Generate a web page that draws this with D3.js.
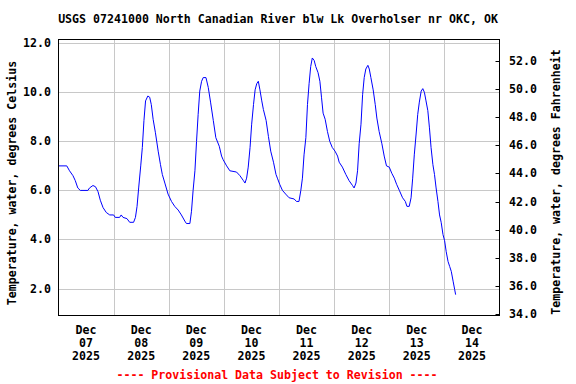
<!DOCTYPE html>
<html>
<head>
<meta charset="utf-8">
<script src="https://cdn.jsdelivr.net/npm/d3@7"></script>
<style>
  body { margin: 0; background: #fff; }
  text { font-family: "DejaVu Sans Mono", monospace; font-weight: bold; font-size: 11.6px; }
</style>
</head>
<body>
<div id="chart"></div>
<script>
var title = "USGS 07241000 North Canadian River blw Lk Overholser nr OKC, OK";
var leftLabel = "Temperature, water, degrees Celsius";
var rightLabel = "Temperature, water, degrees Fahrenheit";
var footer = "---- Provisional Data Subject to Revision ----";

var startDate = "2025-12-07T00:00";
var dayTicks = ["2025-12-07", "2025-12-08", "2025-12-09", "2025-12-10",
                "2025-12-11", "2025-12-12", "2025-12-13", "2025-12-14"];
var celsiusTicks = [2, 4, 6, 8, 10, 12];
var fahrenheitTicks = [34, 36, 38, 40, 42, 44, 46, 48, 50, 52];

// hours after Dec 07 00:00, and water temperature (deg C)
var hours = [0, 3.6, 4.8, 6.3, 7.3, 8.4, 9.5, 12.8, 13.5, 15.0, 16.1, 17.2, 18.2, 19.4, 20.8, 22.3,
  24.0, 24.7, 26.6, 27.3, 28.1, 29.8, 31.0, 32.7, 33.5, 34.2, 34.9, 35.8, 36.5, 37.2, 37.9, 38.9,
  39.7, 40.4, 41.2, 42.2, 43.4, 44.4, 45.2, 46.3, 47.7, 49.2, 50.6, 52.1, 53.5, 55.0, 55.7, 57.2,
  57.9, 58.6, 59.4, 60.1, 60.8, 61.5, 62.3, 63.0, 64.2, 65.2, 66.2, 67.4, 68.5, 70.0, 71.0, 71.7,
  73.2, 74.6, 77.5, 79.0, 80.5, 81.2, 81.9, 82.6, 83.4, 84.1, 84.9, 85.6, 86.3, 87.0, 87.7, 88.5,
  89.2, 90.4, 91.4, 92.4, 93.6, 94.7, 95.3, 96.3, 97.5, 98.9, 100.4, 102.6, 103.6, 104.7, 105.5,
  106.2, 106.9, 107.7, 108.4, 109.1, 109.8, 110.5, 111.3, 112.0, 113.0, 113.8, 114.5, 115.2, 116.1,
  117.1, 118.1, 119.2, 120.4, 121.5, 122.2, 123.6, 125.1, 126.5, 128.0, 128.7, 129.5, 130.2, 130.9,
  131.7, 132.4, 133.1, 133.8, 134.7, 135.3, 136.0, 137.0, 137.9, 138.6, 139.6, 140.8, 141.8, 142.8,
  144.0, 145.1, 146.2, 147.2, 148.4, 149.8, 151.0, 151.7, 152.7, 153.5, 154.2, 154.9, 155.7, 156.4,
  157.1, 157.9, 158.6, 159.3, 160.0, 160.8, 161.5, 162.2, 163.0, 163.7, 164.4, 165.2, 165.9, 166.6,
  167.4, 168.1, 168.8, 169.6, 170.3, 171.0, 171.8, 172.5, 172.9];
var tempC = [7.0, 7.0, 6.8, 6.6, 6.4, 6.1, 6.0, 6.0, 6.1, 6.2, 6.15, 5.95, 5.6, 5.3, 5.1, 5.0,
  5.0, 4.9, 4.9, 5.0, 4.9, 4.85, 4.7, 4.7, 4.9, 5.35, 6.1, 7.0, 7.75, 8.85, 9.65, 9.85,
  9.8, 9.5, 8.9, 8.35, 7.6, 7.05, 6.65, 6.3, 5.85, 5.55, 5.35, 5.2, 5.0, 4.75, 4.65, 4.65,
  5.15, 6.0, 6.8, 8.0, 9.1, 10.05, 10.45, 10.6, 10.6, 10.2, 9.6, 8.85, 8.15, 7.8, 7.4, 7.25,
  7.0, 6.8, 6.75, 6.6, 6.4, 6.3, 6.5, 6.95, 7.75, 8.7, 9.5, 10.1, 10.35, 10.45, 10.1, 9.65,
  9.3, 8.85, 8.2, 7.6, 7.15, 6.65, 6.5, 6.25, 6.0, 5.85, 5.7, 5.65, 5.55, 5.55, 6.0,
  6.5, 7.45, 8.15, 9.5, 10.35, 11.05, 11.4, 11.3, 11.05, 10.8, 10.45, 9.8, 9.15, 8.9,
  8.4, 8.0, 7.75, 7.6, 7.4, 7.15, 6.95, 6.65, 6.4, 6.2, 6.1, 6.3, 6.8, 7.9,
  8.7, 9.9, 10.6, 10.95, 11.1, 10.95, 10.6, 10.1, 9.5, 8.95, 8.4, 7.9, 7.4, 7.0,
  6.95, 6.7, 6.5, 6.25, 6.0, 5.7, 5.55, 5.35, 5.35, 5.7, 6.5, 7.45, 8.3, 9.1,
  9.6, 10.05, 10.15, 10.0, 9.65, 9.25, 8.55, 7.75, 7.05, 6.65, 6.1, 5.55, 5.0, 4.7,
  4.2, 3.95, 3.5, 3.1, 2.9, 2.7, 2.3, 1.95, 1.75];

var svg = d3.select("#chart").append("svg")
  .attr("width", 576)
  .attr("height", 384);

var plotLeft = 58.5, plotRight = 499.5, plotTop = 39.5, plotBottom = 315.5;

var parseDay = d3.timeParse("%Y-%m-%d");
var t0 = d3.timeParse("%Y-%m-%dT%H:%M")(startDate);

var data = hours.map(function(h, i) {
  return { date: d3.timeMinute.offset(t0, Math.round(h * 60)), value: tempC[i] };
});

var x = d3.scaleTime()
  .domain([t0, d3.timeDay.offset(t0, 8)])
  .range([plotLeft, plotRight]);

var y = d3.scaleLinear()
  .domain([0.9, 12.153])
  .range([plotBottom, plotTop]);

var yF = d3.scaleLinear()
  .domain([33.89, 53.53])
  .range([plotBottom, plotTop]);

// grid
var grid = svg.append("g")
  .style("stroke", "#c8c8c8")
  .style("stroke-width", 1);

grid.selectAll(".hgrid").data(celsiusTicks).enter().append("line")
  .attr("x1", plotLeft).attr("x2", plotRight)
  .attr("y1", function(d) { return Math.round(y(d)) + 0.5; })
  .attr("y2", function(d) { return Math.round(y(d)) + 0.5; });

grid.selectAll(".vgrid").data(dayTicks.slice(1)).enter().append("line")
  .attr("y1", plotTop).attr("y2", plotBottom)
  .attr("x1", function(d) { return Math.round(x(parseDay(d))) + 0.5; })
  .attr("x2", function(d) { return Math.round(x(parseDay(d))) + 0.5; });

// data line
var line = d3.line()
  .x(function(d) { return x(d.date); })
  .y(function(d) { return y(d.value); });

svg.append("path").datum(data)
  .attr("d", line)
  .style("fill", "none")
  .style("stroke", "#0000ff")
  .style("stroke-width", 1);

// frame
svg.append("rect")
  .attr("x", plotLeft).attr("y", plotTop)
  .attr("width", plotRight - plotLeft).attr("height", plotBottom - plotTop)
  .style("fill", "none")
  .style("stroke", "#000")
  .style("stroke-width", 1);

// left labels
svg.selectAll(".ylab").data(celsiusTicks).enter().append("text")
  .attr("x", 51)
  .attr("y", function(d) { return y(d) + 4; })
  .attr("text-anchor", "end")
  .text(function(d) { return d.toFixed(1); });

// right ticks and labels
svg.selectAll(".ftick").data(fahrenheitTicks).enter().append("line")
  .attr("x1", plotRight - 4).attr("x2", plotRight)
  .attr("y1", function(d) { return Math.round(yF(d)) + 0.5; })
  .attr("y2", function(d) { return Math.round(yF(d)) + 0.5; })
  .style("stroke", "#000");

svg.selectAll(".flab").data(fahrenheitTicks).enter().append("text")
  .attr("x", 509)
  .attr("y", function(d) { return yF(d) + 4; })
  .text(function(d) { return d.toFixed(1); });

// x labels
var fmtMon = d3.timeFormat("%b"), fmtDay = d3.timeFormat("%d"), fmtYear = d3.timeFormat("%Y");
var xl = svg.selectAll(".xlab").data(dayTicks).enter().append("text")
  .attr("text-anchor", "middle")
  .attr("transform", function(d) {
    return "translate(" + x(d3.timeHour.offset(parseDay(d), 12)) + ",334)";
  });
xl.append("tspan").attr("x", 0).attr("y", 0).text(function(d) { return fmtMon(parseDay(d)); });
xl.append("tspan").attr("x", 0).attr("y", 13).text(function(d) { return fmtDay(parseDay(d)); });
xl.append("tspan").attr("x", 0).attr("y", 26).text(function(d) { return fmtYear(parseDay(d)); });

// titles
svg.append("text")
  .attr("x", 278).attr("y", 23)
  .attr("text-anchor", "middle")
  .text(title);

svg.append("text")
  .attr("transform", "translate(16,183) rotate(-90)")
  .attr("text-anchor", "middle")
  .text(leftLabel);

svg.append("text")
  .attr("transform", "translate(560,182) rotate(-90)")
  .attr("text-anchor", "middle")
  .text(rightLabel);

svg.append("text")
  .attr("x", 277).attr("y", 379)
  .attr("text-anchor", "middle")
  .style("fill", "#ff0000")
  .text(footer);
</script>
</body>
</html>
